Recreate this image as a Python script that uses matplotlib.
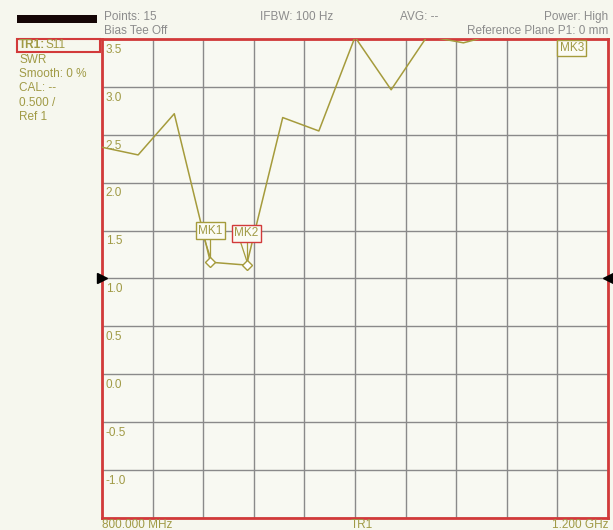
import matplotlib
matplotlib.use("Agg")
import matplotlib.pyplot as plt
from matplotlib.patches import Rectangle
import numpy as np

plt.rcParams["font.family"] = ["Liberation Sans", "DejaVu Sans"]

# Sweep: 15 points from 800 MHz to 1200 MHz
freq_mhz = np.linspace(800, 1200, 15)
swr = [2.37, 2.29, 2.72, 1.17, 1.14, 2.68, 2.54, 3.52, 2.97, 3.53,
       3.46, 3.56, 3.8, 3.9, 4.0]
marker_names = ["MK1", "MK2", "MK3"]
marker_idx = [3, 4, 13]
y_ticks = [3.5, 3.0, 2.5, 2.0, 1.5, 1.0, 0.5, 0.0, -0.5, -1.0]
ref_level = 1.0

trace_col = "#a59b3c"
text_col = "#a09a45"
grey_txt = "#8c8c8c"
bg = "#f6f7ee"
frame_red = "#d23a3a"
FS = 8.5

fig = plt.figure(figsize=(6.13, 5.30), dpi=100, facecolor=bg)
ax = fig.add_axes([102/613, 1-518/530, 506/613, 479/530])
ax.set_facecolor("#f8f9f2")
ax.set_xlim(800, 1200)
ax.set_ylim(-1.5, 3.5)
ax.set_xticks(np.linspace(800, 1200, 11))
ax.set_yticks(np.arange(-1.5, 3.51, 0.5))
ax.grid(True, color="#8a8a8a", lw=1.0)
ax.tick_params(length=0, labelbottom=False, labelleft=False)
for s in ax.spines.values():
    s.set_color(frame_red)
    s.set_linewidth(2.0)

ax.plot(freq_mhz, swr, color=trace_col, lw=1.1, zorder=3)

# y-scale labels inside the grid
for v in y_ticks:
    ax.text(803, v - 0.05, f"{v:.1f}", color=text_col, fontsize=FS,
            va="top", ha="left", zorder=4)

# reference level arrows
ax.plot([800], [ref_level], marker=">", color="black", ms=7, clip_on=False, zorder=5)
ax.plot([1200], [ref_level], marker="<", color="black", ms=7, clip_on=False, zorder=5)

# markers
mk_box = {"MK1": (1.50, trace_col), "MK2": (1.47, frame_red)}
for name, i in zip(marker_names, marker_idx):
    fx, fy = freq_mhz[i], swr[i]
    if name in mk_box:
        by, ec = mk_box[name]
        ax.plot([fx], [fy], marker="D", ms=5, mfc="white", mec=trace_col,
                mew=1.0, zorder=6)
        ax.plot([fx - 4.5, fx], [by - 0.1, fy + 0.05], color=trace_col, lw=0.9, zorder=5)
        ax.plot([fx, fx], [by - 0.1, fy + 0.05], color=trace_col, lw=0.9, zorder=5)
        ax.text(fx, by, name, color=text_col, fontsize=FS, ha="center", va="center",
                zorder=7, bbox=dict(boxstyle="square,pad=0.2", fc="#fbfbf4", ec=ec, lw=1.0))
    else:
        ax.text(fx, 3.47, name, color=text_col, fontsize=FS, ha="center", va="top",
                zorder=7, bbox=dict(boxstyle="square,pad=0.2", fc="#fbfbf4", ec=trace_col, lw=1.0))

# header line
def ftext(x, y, s, **kw):
    fig.text(x/613, 1 - y/530, s, fontsize=FS, va="center", **kw)

ftext(104, 17, "Points: 15", color=grey_txt, ha="left")
ftext(104, 31, "Bias Tee Off", color=grey_txt, ha="left")
ftext(260, 17, "IFBW: 100 Hz", color=grey_txt, ha="left")
ftext(400, 17, "AVG: --", color=grey_txt, ha="left")
ftext(608, 17, "Power: High", color=grey_txt, ha="right")
ftext(608, 31, "Reference Plane P1: 0 mm", color=grey_txt, ha="right")

# left trace panel
fig.patches.append(Rectangle((17/613, 1-23/530), 80/613, 8/530, transform=fig.transFigure,
                             fc="#150606", ec="none"))
fig.patches.append(Rectangle((17/613, 1-52/530), 83/613, 13/530, transform=fig.transFigure,
                             fc="none", ec=frame_red, lw=1.5))
ftext(19, 45, "TR1:", color=text_col, ha="left", fontweight="bold")
ftext(46, 45, "S11", color=text_col, ha="left")
for y, s in zip([60, 74, 88, 103, 117], ["SWR", "Smooth: 0 %", "CAL: --", "0.500 /", "Ref 1"]):
    ftext(19, y, s, color=text_col, ha="left")

# bottom annotations
ftext(102, 525, "800.000 MHz", color=text_col, ha="left")
ftext(362, 525, "TR1", color=text_col, ha="center")
ftext(608, 525, "1.200 GHz", color=text_col, ha="right")

fig.savefig("out.png", dpi=100, facecolor=bg)
